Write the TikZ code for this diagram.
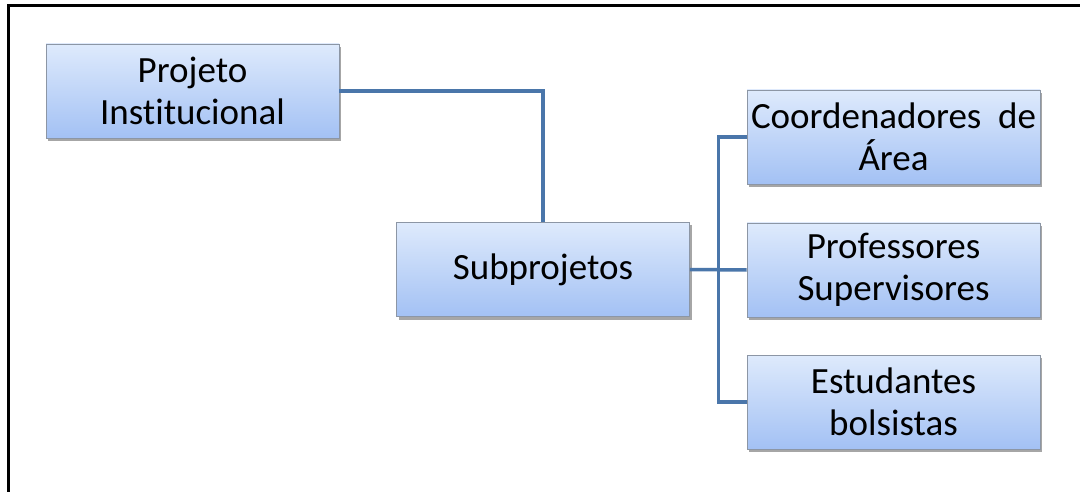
\documentclass[tikz,border=0pt]{standalone}
\usepackage{fontspec}
\setmainfont[Ligatures={NoCommon}]{Carlito}
\usetikzlibrary{shadows,calc}
\definecolor{boxtop}{RGB}{222,234,252}
\definecolor{boxbot}{RGB}{163,193,244}
\definecolor{boxline}{RGB}{140,150,165}
\definecolor{connc}{RGB}{74,118,170}
\tikzset{
  orgbox/.style={draw=boxline, line width=0.8pt, top color=boxtop, bottom color=boxbot,
    minimum width=293pt, minimum height=94pt, inner sep=2pt, align=center,
    font=\fontsize{37}{42}\selectfont,
    drop shadow={shadow xshift=2pt, shadow yshift=-3pt, opacity=0.35, fill=black}},
  conn/.style={draw=connc, line width=3.5pt}
}
\begin{document}
\begin{tikzpicture}[x=1pt,y=-1pt]
\clip (0,0) rectangle (1080,492);
\useasboundingbox (0,0) rectangle (1080,492);
\fill[white] (0,0) rectangle (1080,492);
\draw[line width=3pt] (8,520) -- (8,6) -- (1100,6);
\node[orgbox] (proj) at (192.5,91) {Projeto\\Institucional};
\node[orgbox] (sub) at (543,269.5) {Subprojetos};
\node[orgbox] (coord) at (893.5,137) {Coordenadores\ \ de\\Área};
\node[orgbox] (prof) at (893.5,270) {Professores\\Supervisores};
\node[orgbox] (est) at (893.5,402) {Estudantes\\bolsistas};
\coordinate (bx) at ($(sub.east)!0.5!(prof.west)$);
\draw[conn] (proj.east) -| (sub.north);
\draw[conn] (sub.east) -- (prof.west);
\draw[conn] (coord.west) -| (bx) |- (est.west);
\end{tikzpicture}
\end{document}
